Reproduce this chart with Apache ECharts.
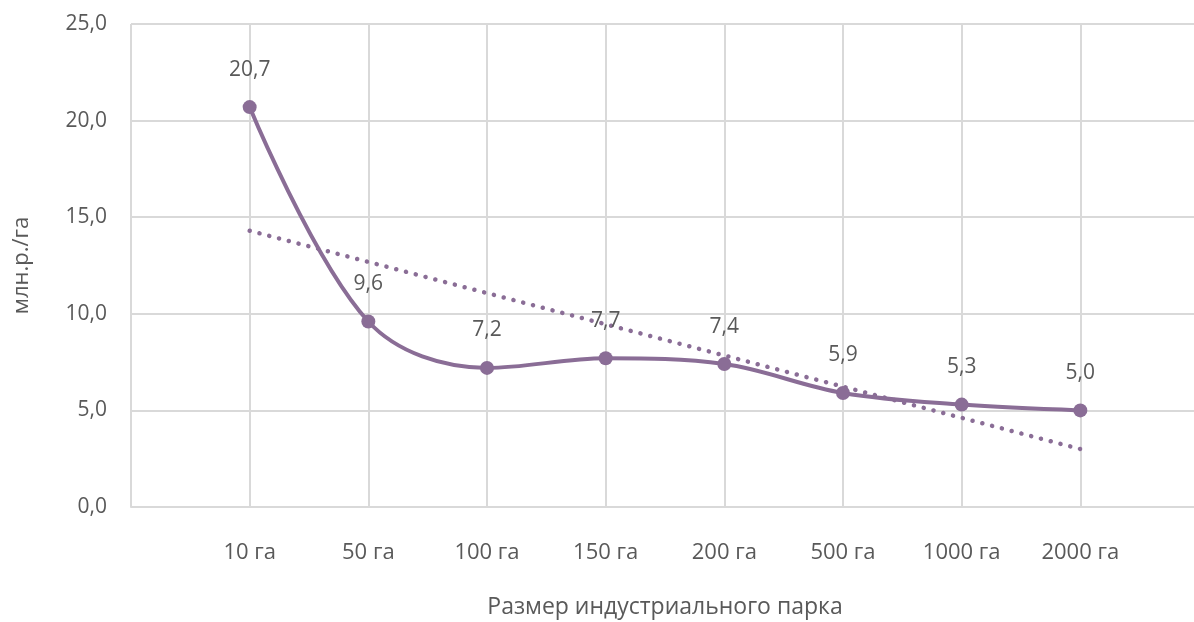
<!DOCTYPE html>
<html><head><meta charset="utf-8">
<script src="https://cdn.jsdelivr.net/npm/echarts@6/dist/echarts.min.js"></script>
<style>html,body{margin:0;padding:0;background:#fff}#c{width:1194px;height:622px}</style>
</head><body><div id="c"></div>
<script>
var categories = ['', '10 га', '50 га', '100 га', '150 га', '200 га', '500 га', '1000 га', '2000 га', ''];
var values = [null, 20.7, 9.6, 7.2, 7.7, 7.4, 5.9, 5.3, 5.0, null];
var trendPoints = [['10 га', 14.3], ['2000 га', 3.0]];
var yTicks = {min: 0, max: 25, interval: 5};
var xTitle = 'Размер индустриального парка';
var yTitle = 'млн.р./га';

var purple = '#8a6d96';
var txt = '#595959';
var font = 'Open Sans';
var chart = echarts.init(document.getElementById('c'));
chart.setOption({
  animation: false,
  grid: {left: 131, top: 24, width: 1068, height: 483, containLabel: false, outerBoundsMode: 'none'},
  xAxis: {
    type: 'category', data: categories, boundaryGap: false,
    name: xTitle, nameLocation: 'middle', nameGap: 89,
    nameTextStyle: {color: txt, fontSize: 23, fontFamily: font},
    axisLine: {show: true, lineStyle: {color: '#d9d9d9', width: 2}},
    axisTick: {show: false},
    axisLabel: {color: txt, fontSize: 22, fontFamily: font, margin: 35, interval: 0},
    splitLine: {show: true, lineStyle: {color: '#d9d9d9', width: 2}}
  },
  yAxis: {
    type: 'value', min: yTicks.min, max: yTicks.max, interval: yTicks.interval,
    name: yTitle, nameLocation: 'middle', nameGap: 98, nameRotate: 90,
    nameTextStyle: {color: txt, fontSize: 22, fontFamily: font},
    axisLine: {show: false}, axisTick: {show: false},
    axisLabel: {color: txt, fontSize: 21, fontFamily: font, margin: 24,
      formatter: function(v){ return v.toFixed(1).replace('.', ','); }},
    splitLine: {show: true, lineStyle: {color: '#d9d9d9', width: 2}}
  },
  series: [
    {
      type: 'line', data: trendPoints, symbol: 'none', z: 1,
      lineStyle: {color: purple, width: 4.5, type: [0.1, 10], cap: 'round'}
    },
    {
      type: 'line', data: values, smooth: 0.35, symbol: 'circle', symbolSize: 14, z: 2,
      lineStyle: {color: purple, width: 4},
      itemStyle: {color: purple},
      label: {show: true, position: 'top', distance: 20, color: txt, fontSize: 21, fontFamily: font,
        formatter: function(p){ return p.value == null ? '' : p.value.toFixed(1).replace('.', ','); }}
    }
  ]
});
</script></body></html>
